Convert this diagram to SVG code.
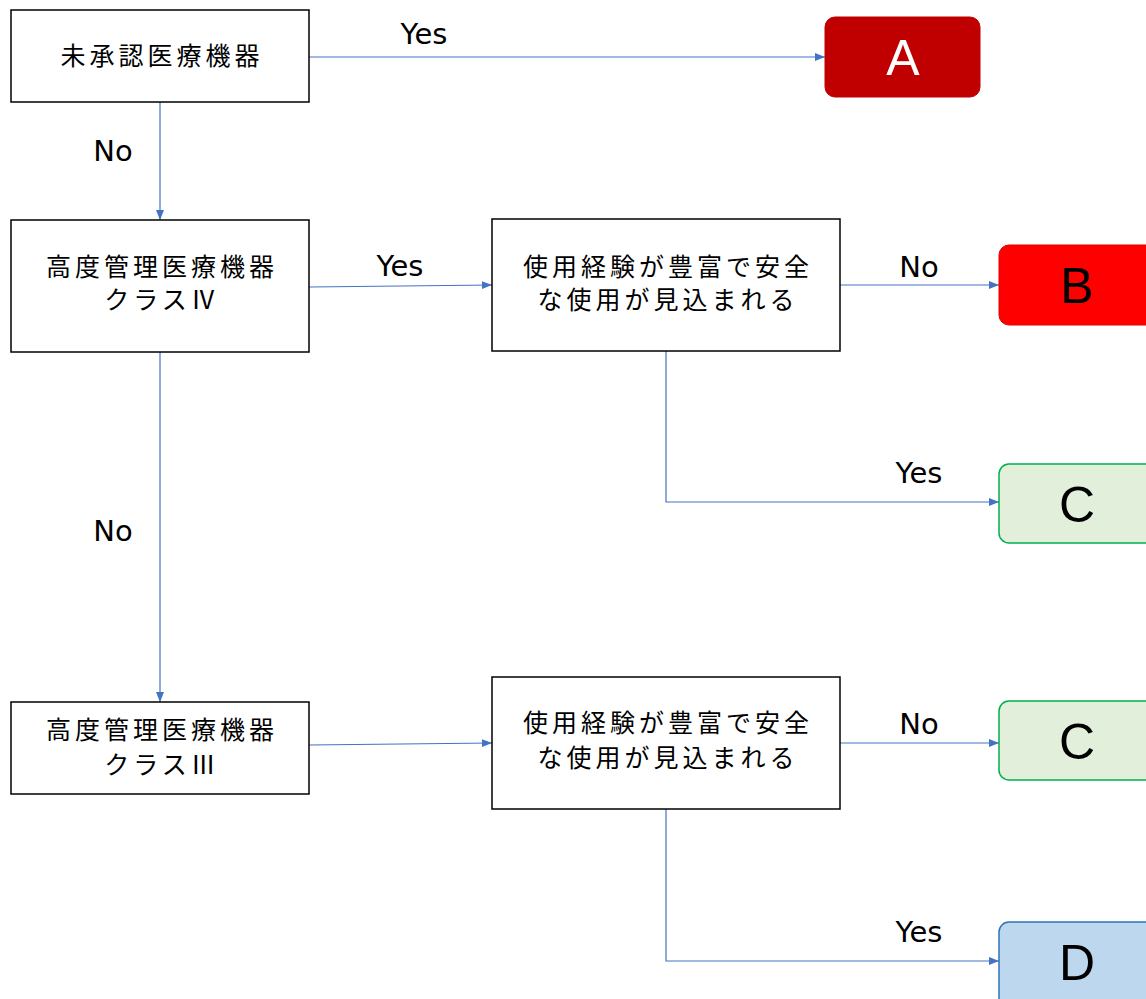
<svg xmlns="http://www.w3.org/2000/svg" width="1146" height="999" viewBox="0 0 1146 999">
<defs>
<marker id="arr" viewBox="0 0 10 10" refX="10" refY="5" markerWidth="10" markerHeight="10" markerUnits="userSpaceOnUse" orient="auto">
<path d="M0,1 L10,5 L0,9 Z" fill="#4472C4"/>
</marker>
<style>
.box{fill:#fff;stroke:#000;stroke-width:1.5}
.jp{font-family:"Noto Sans CJK JP",sans-serif;font-size:25px;letter-spacing:4px;fill:#000;text-anchor:middle}
.lbl{font-family:"DejaVu Sans",sans-serif;font-size:29px;fill:#000;text-anchor:middle}
.big{font-family:"Liberation Sans",sans-serif;font-size:50px;text-anchor:middle}
.ln{fill:none;stroke:#4472C4;stroke-width:1.2;marker-end:url(#arr)}
</style>
</defs>
<rect width="1146" height="999" fill="#fff"/>
<g id="connectors">
<path class="ln" d="M309,57 L825,57"/>
<path class="ln" d="M160,102 L160,220"/>
<path class="ln" d="M309,287 L492,285"/>
<path class="ln" d="M840,285 L999,285"/>
<path class="ln" d="M666,351 L666,502 L999,502"/>
<path class="ln" d="M160,352 L160,702"/>
<path class="ln" d="M309,745 L492,743"/>
<path class="ln" d="M840,743 L999,743"/>
<path class="ln" d="M666,809 L666,961 L999,961"/>
<text class="lbl" x="424" y="44">Yes</text>
<text class="lbl" x="113" y="161">No</text>
<text class="lbl" x="400" y="276">Yes</text>
<text class="lbl" x="919" y="277">No</text>
<text class="lbl" x="919" y="483">Yes</text>
<text class="lbl" x="113" y="541">No</text>
<text class="lbl" x="919" y="734">No</text>
<text class="lbl" x="919" y="942">Yes</text>
</g>
<g id="n1">
<rect class="box" x="11" y="10" width="298" height="92"/>
<text class="jp" x="162" y="65">未承認医療機器</text>
</g>
<g id="nA">
<rect x="825" y="17" width="155" height="80" rx="10" fill="#C00000" stroke="#C00000"/>
<text class="big" x="903" y="75" fill="#fff">A</text>
</g>
<g id="n2">
<rect class="box" x="11" y="220" width="298" height="132"/>
<text class="jp" x="162" y="276">高度管理医療機器</text>
<text class="jp" x="162" y="309">クラスⅣ</text>
</g>
<g id="n3">
<rect class="box" x="492" y="219" width="348" height="132"/>
<text class="jp" x="668" y="276">使用経験が豊富で安全</text>
<text class="jp" x="668" y="309">な使用が見込まれる</text>
</g>
<g id="nB">
<rect x="999" y="245" width="160" height="80" rx="10" fill="#FF0000" stroke="#E00000"/>
<text class="big" x="1077" y="303" fill="#000">B</text>
</g>
<g id="nC1">
<rect x="999" y="464" width="160" height="79" rx="10" fill="#E2EFDA" stroke="#00B050" stroke-width="1.5"/>
<text class="big" x="1077" y="522" fill="#000">C</text>
</g>
<g id="n4">
<rect class="box" x="11" y="702" width="298" height="92"/>
<text class="jp" x="162" y="739">高度管理医療機器</text>
<text class="jp" x="162" y="774">クラスⅢ</text>
</g>
<g id="n5">
<rect class="box" x="492" y="677" width="348" height="132"/>
<text class="jp" x="668" y="732">使用経験が豊富で安全</text>
<text class="jp" x="668" y="767">な使用が見込まれる</text>
</g>
<g id="nC2">
<rect x="999" y="701" width="160" height="79" rx="10" fill="#E2EFDA" stroke="#00B050" stroke-width="1.5"/>
<text class="big" x="1077" y="759" fill="#000">C</text>
</g>
<g id="nD">
<rect x="999" y="922" width="160" height="90" rx="10" fill="#BDD7EE" stroke="#2E75B6" stroke-width="1.5"/>
<text class="big" x="1077" y="980" fill="#000">D</text>
</g>
</svg>
